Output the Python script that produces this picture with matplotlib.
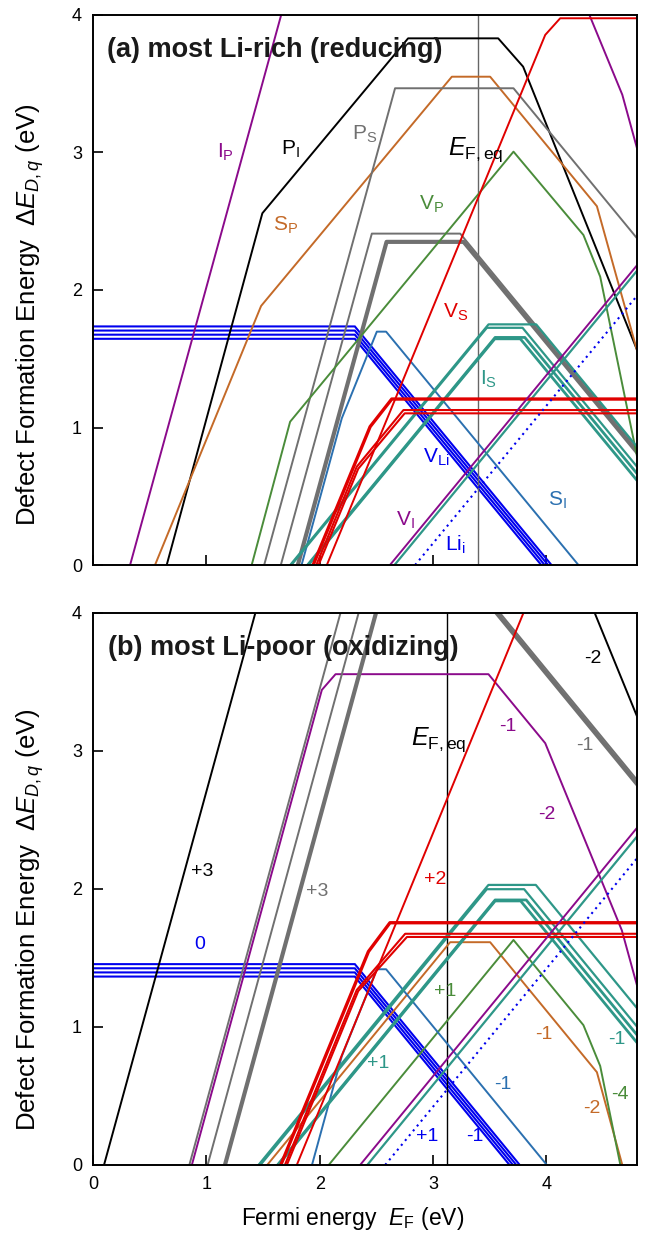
import numpy as np
import matplotlib
matplotlib.use("Agg")
import matplotlib.pyplot as plt

plt.rcParams['font.family'] = ['Liberation Sans', 'DejaVu Sans']
plt.rcParams['mathtext.fontset'] = 'custom'
plt.rcParams['mathtext.rm'] = 'Liberation Sans'
plt.rcParams['mathtext.it'] = 'Liberation Sans:italic'

# colours
c_purple = '#8b0a8b'
c_gray = '#707070'
c_orange = '#c46a28'
c_green = '#4a8c3a'
c_red = '#e00000'
c_teal = '#2e9788'
c_blue = '#0000ee'
c_steel = '#2b70b0'

# ---------- (a) most Li-rich : breakpoints (E_F, dE) ----------
a_IP_x = [0.327, 2.0, 3.87, 4.67, 4.8]
a_IP_y = [0.0, 5.02, 5.02, 3.42, 3.03]
a_PI_x = [0.65, 1.494, 2.78, 3.575, 3.795, 4.8]
a_PI_y = [0.0, 2.558, 3.83, 3.83, 3.624, 1.564]
a_SP_x = [0.547, 1.483, 3.166, 3.504, 4.446, 4.8]
a_SP_y = [0.0, 1.884, 3.551, 3.551, 2.609, 1.56]
a_PS_x = [1.51, 2.665, 3.71, 4.8]
a_PS_y = [0.0, 3.467, 3.467, 2.376]
a_G1_x = [1.657, 2.46, 3.24, 4.8]
a_G1_y = [0.0, 2.41, 2.41, 0.85]
a_G2_x = [1.807, 2.59, 3.27, 4.8]
a_G2_y = [0.0, 2.35, 2.35, 0.82]
a_VP_x = [1.40, 1.739, 3.71, 4.327, 4.475, 4.8]
a_VP_y = [0.0, 1.042, 3.006, 2.4, 2.097, 0.79]
a_VS_x = [2.063, 3.99, 4.122, 4.8]
a_VS_y = [0.0, 3.855, 3.976, 3.976]
a_R1_x = [1.942, 2.445, 2.636, 4.8]
a_R1_y = [0.0, 1.006, 1.207, 1.207]
a_R2a_x = [1.97, 2.327, 2.739, 4.8]
a_R2a_y = [0.0, 0.715, 1.127, 1.127]
a_R2b_x = [1.99, 2.34, 2.75, 4.8]
a_R2b_y = [0.0, 0.70, 1.103, 1.103]
a_TA_x = [1.74, 3.49, 3.91, 4.8]
a_TA_y = [0.0, 1.75, 1.75, 0.86]
a_TB_x = [1.75, 3.475, 3.79, 4.8]
a_TB_y = [0.0, 1.725, 1.725, 0.715]
a_TC_x = [1.893, 3.548, 3.81, 4.8]
a_TC_y = [0.0, 1.655, 1.655, 0.665]
a_TD_x = [1.90, 3.545, 3.77, 4.8]
a_TD_y = [0.0, 1.645, 1.645, 0.615]
a_T5_x = [2.66, 4.8]
a_T5_y = [0.0, 2.14]
a_VLi_level = [1.735, 1.705, 1.675, 1.645]
a_VLi_corner = 2.31
a_SI_x = [1.84, 2.195, 2.504, 2.586, 4.283]
a_SI_y = [0.0, 1.067, 1.697, 1.697, 0.0]
a_VI_x = [2.62, 4.8]
a_VI_y = [0.0, 2.18]
a_Lii_x = [2.842, 4.8]
a_Lii_y = [0.0, 1.958]
a_EFeq = 3.40

# ---------- (b) most Li-poor ----------
b_PI_x = [0.097, 2.1, 3.43, 4.8]
b_PI_y = [0.0, 6.0, 6.0, 3.25]
b_IP_x = [0.872, 2.019, 2.14, 3.489, 3.99, 4.666, 4.8]
b_IP_y = [0.0, 3.442, 3.556, 3.556, 3.056, 1.70, 1.30]
b_PS_x = [0.85, 2.667, 4.8]
b_PS_y = [0.0, 5.45, 5.45]
b_G1_x = [1.011, 2.46, 3.24, 4.8]
b_G1_y = [0.0, 4.35, 4.35, 2.79]
b_G2_x = [1.164, 2.59, 3.28, 4.8]
b_G2_y = [0.0, 4.28, 4.28, 2.76]
b_VP_x = [2.08, 3.71, 4.327, 4.475, 4.653]
b_VP_y = [0.0, 1.63, 1.013, 0.717, 0.0]
b_VS_x = [1.798, 3.99, 4.8]
b_VS_y = [0.0, 4.384, 5.2]
b_R1_x = [1.657, 2.43, 2.62, 4.8]
b_R1_y = [0.0, 1.546, 1.755, 1.755]
b_R2a_x = [1.693, 2.327, 2.754, 4.8]
b_R2a_y = [0.0, 1.268, 1.675, 1.675]
b_R2b_x = [1.71, 2.34, 2.77, 4.8]
b_R2b_y = [0.0, 1.26, 1.652, 1.652]
b_SP_x = [1.537, 3.151, 3.504, 4.446, 4.67]
b_SP_y = [0.0, 1.614, 1.614, 0.672, 0.0]
b_TA_x = [1.46, 3.489, 3.907, 4.8]
b_TA_y = [0.0, 2.029, 2.029, 1.136]
b_TB_x = [1.477, 3.475, 3.804, 4.8]
b_TB_y = [0.0, 1.998, 1.998, 1.002]
b_TC_x = [1.628, 3.548, 3.822, 4.8]
b_TC_y = [0.0, 1.92, 1.92, 0.942]
b_TD_x = [1.635, 3.548, 3.773, 4.8]
b_TD_y = [0.0, 1.913, 1.913, 0.886]
b_T5_x = [2.42, 4.8]
b_T5_y = [0.0, 2.38]
b_VLi_level = [1.455, 1.425, 1.395, 1.365]
b_VLi_corner = 2.31
b_SI_x = [1.932, 2.195, 2.504, 2.586, 4.004]
b_SI_y = [0.0, 0.788, 1.418, 1.418, 0.0]
b_VI_x = [2.357, 4.8]
b_VI_y = [0.0, 2.443]
b_Lii_x = [2.578, 4.8]
b_Lii_y = [0.0, 2.222]
b_EFeq = 3.127

# labels: (text, x, y, colour)
a_labels = [(r'I$_{\rm P}$', 1.165, 3.0, c_purple),
            (r'P$_{\rm I}$', 1.74, 3.02, 'black'),
            (r'P$_{\rm S}$', 2.40, 3.13, c_gray),
            (r'S$_{\rm P}$', 1.695, 2.47, c_orange),
            (r'V$_{\rm P}$', 2.99, 2.62, c_green),
            (r'V$_{\rm S}$', 3.195, 1.84, c_red),
            (r'I$_{\rm S}$', 3.49, 1.35, c_teal),
            (r'V$_{\rm Li}$', 3.03, 0.78, c_blue),
            (r'S$_{\rm I}$', 4.095, 0.473, c_steel),
            (r'V$_{\rm I}$', 2.754, 0.327, c_purple),
            (r'Li$_{\rm i}$', 3.195, 0.145, c_blue)]
b_labels = [('+3', 0.96, 2.125, 'black'),
            ('+3', 1.974, 1.98, c_gray),
            ('0', 0.944, 1.594, c_blue),
            ('+2', 3.02, 2.065, c_red),
            ('-2', 4.41, 3.67, 'black'),
            ('-1', 3.66, 3.18, c_purple),
            ('-1', 4.34, 3.04, c_gray),
            ('-2', 4.0, 2.536, c_purple),
            ('+1', 3.107, 1.256, c_green),
            ('+1', 2.518, 0.737, c_teal),
            ('-1', 3.975, 0.942, c_orange),
            ('-1', 4.62, 0.906, c_teal),
            ('-1', 3.62, 0.58, c_steel),
            ('-4', 4.651, 0.507, c_green),
            ('-2', 4.40, 0.41, c_orange),
            ('+1', 2.945, 0.205, c_blue),
            ('-1', 3.37, 0.205, c_blue)]


def draw_vli(ax, levels, corner):
    # flat neutral part, then slope -1
    for lev in levels:
        ax.plot([0.0, corner, corner + lev], [lev, lev, 0.0], color=c_blue, lw=1.5,
                solid_joinstyle='miter')


def draw_panel(ax, d, efeq, vline_col):
    draw_vli(ax, d['VLi_level'], d['VLi_corner'])
    ax.axvline(efeq, color=vline_col, lw=1.0)
    ax.plot(d['IP_x'], d['IP_y'], color=c_purple, lw=1.4)
    ax.plot(d['PI_x'], d['PI_y'], color='black', lw=1.4)
    ax.plot(d['SP_x'], d['SP_y'], color=c_orange, lw=1.4)
    ax.plot(d['PS_x'], d['PS_y'], color=c_gray, lw=1.4)
    ax.plot(d['G1_x'], d['G1_y'], color=c_gray, lw=1.4)
    ax.plot(d['G2_x'], d['G2_y'], color=c_gray, lw=3.0)
    ax.plot(d['VP_x'], d['VP_y'], color=c_green, lw=1.4)
    ax.plot(d['SI_x'], d['SI_y'], color=c_steel, lw=1.4)
    for k in ['TA', 'TB', 'TC', 'TD', 'T5']:
        lw = 2.0 if k in ('TC', 'TD') else 1.6
        ax.plot(d[k + '_x'], d[k + '_y'], color=c_teal, lw=lw)
    ax.plot(d['VS_x'], d['VS_y'], color=c_red, lw=1.4)
    ax.plot(d['R1_x'], d['R1_y'], color=c_red, lw=2.4)
    ax.plot(d['R2a_x'], d['R2a_y'], color=c_red, lw=1.5)
    ax.plot(d['R2b_x'], d['R2b_y'], color=c_red, lw=1.5)
    ax.plot(d['VI_x'], d['VI_y'], color=c_purple, lw=1.4)
    ax.plot(d['Lii_x'], d['Lii_y'], color=c_blue, lw=1.5, ls=(0, (1, 2)))

    ax.set_xlim(0, 4.8)
    ax.set_ylim(0, 4)
    ax.set_xticks([0, 1, 2, 3, 4])
    ax.set_yticks([0, 1, 2, 3, 4])
    ax.tick_params(direction='in', length=7, width=1.2, labelsize=13, pad=8)
    for s in ax.spines.values():
        s.set_linewidth(1.4)
    ax.set_ylabel(r'Defect Formation Energy  $\Delta E_{D,q}$ (eV)', fontsize=18.5,
                  family=['Liberation Sans Narrow', 'Liberation Sans', 'DejaVu Sans'])


a_data = {k[2:]: v for k, v in globals().items() if k.startswith('a_')}
b_data = {k[2:]: v for k, v in globals().items() if k.startswith('b_')}

fig = plt.figure(figsize=(6.57, 12.47), dpi=100)
ax1 = fig.add_axes([0.1416, 0.5469, 0.828, 0.4411])
ax2 = fig.add_axes([0.1416, 0.0658, 0.828, 0.4427])

draw_panel(ax1, a_data, a_EFeq, '#666666')
draw_panel(ax2, b_data, b_EFeq, 'black')
ax1.set_xticklabels([])

ax1.yaxis.set_label_coords(-0.086, 0.455)
ax2.yaxis.set_label_coords(-0.086, 0.444)

ax1.text(0.026, 0.936, '(a) most Li-rich (reducing)', transform=ax1.transAxes,
         fontsize=19.5, fontweight='bold', va='center', ha='left', color='#1a1a1a')
ax2.text(0.028, 0.937, '(b) most Li-poor (oxidizing)', transform=ax2.transAxes,
         fontsize=19.5, fontweight='bold', va='center', ha='left', color='#1a1a1a')

for txt, x, y, col in a_labels:
    ax1.text(x, y, txt, color=col, fontsize=15, ha='center', va='center')
for txt, x, y, col in b_labels:
    ax2.text(x, y, txt, color=col, fontsize=14, ha='center', va='center')

ax1.text(3.38, 3.02, r'$E_{\rm F,eq}$', fontsize=18, ha='center', va='center')
ax2.text(3.05, 3.08, r'$E_{\rm F,eq}$', fontsize=18, ha='center', va='center')

ax2.set_xlabel(r'Fermi energy  $E_{\rm F}$ (eV)', fontsize=16.5)
ax2.xaxis.set_label_coords(0.478, -0.073)

plt.savefig('out.png', dpi=100)
